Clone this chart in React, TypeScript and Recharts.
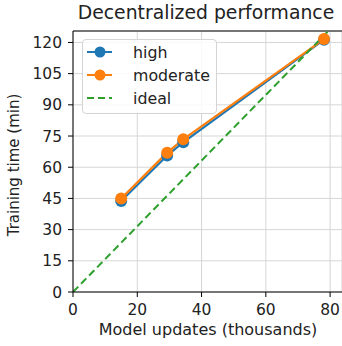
import React from 'react';
import { LineChart, Line, XAxis, YAxis, CartesianGrid, Legend, ReferenceLine } from 'recharts';

// model updates (thousands) vs training time (min)
const updates = [15, 29.3, 34.3, 78.1];
const highTime = [43.8, 65.6, 72.0, 121.3];
const moderateTime = [45.0, 67.0, 73.4, 121.6];
const idealUpdates = [0, 84];
const idealTime = [0, 132.7];

const xTicks = [0, 20, 40, 60, 80];
const yTicks = [0, 15, 30, 45, 60, 75, 90, 105, 120];

const FONT = '"DejaVu Sans", Verdana, sans-serif';

const toPoints = (xs: number[], ys: number[]) => xs.map((x, i) => ({ x, y: ys[i] }));

const highData = toPoints(updates, highTime);
const moderateData = toPoints(updates, moderateTime);
const idealData = toPoints(idealUpdates, idealTime);

const legendItems = [
  { name: 'high', color: '#1f77b4', dashed: false },
  { name: 'moderate', color: '#ff7f0e', dashed: false },
  { name: 'ideal', color: '#2ca02c', dashed: true },
];

const LegendBox = () => (
  <div
    style={{
      width: 135,
      height: 75,
      boxSizing: 'border-box',
      border: '1px solid #d4d4d4',
      borderRadius: 4,
      background: 'rgba(255,255,255,0.85)',
    }}
  >
    <svg width={133} height={73} style={{ display: 'block' }}>
      {legendItems.map((item, i) => {
        const cy = 12 + i * 23;
        return (
          <g key={item.name}>
            <line
              x1={4}
              x2={29}
              y1={cy}
              y2={cy}
              stroke={item.color}
              strokeWidth={2}
              strokeDasharray={item.dashed ? '7 4' : undefined}
            />
            {!item.dashed && <circle cx={17} cy={cy} r={5.5} fill={item.color} />}
            <text x={50} y={cy + 5.5} fontSize={15.8} fontFamily={FONT} fill="#222">
              {item.name}
            </text>
          </g>
        );
      })}
    </svg>
  </div>
);

export default function App() {
  const tick = { fill: '#222', fontSize: 15.5, fontFamily: FONT };
  return (
    <div style={{ position: 'relative', width: 342, height: 346 }}>
      <style>{'body { margin: 0; }'}</style>
      <LineChart
        width={342}
        height={346}
        margin={{ top: 31, right: 0, bottom: 0, left: 0 }}
        style={{ fontFamily: FONT }}
      >
        <CartesianGrid stroke="#d6d6d6" strokeWidth={1} />
        <XAxis
          type="number"
          dataKey="x"
          domain={[0, 83.7]}
          ticks={xTicks}
          allowDataOverflow
          height={54}
          tickSize={5}
          tickMargin={7}
          stroke="#000"
          tick={tick}
          label={() => (
            <text x={208} y={334.5} textAnchor="middle" fontSize={16} fontFamily={FONT} fill="#222">
              Model updates (thousands)
            </text>
          )}
        />
        <YAxis
          type="number"
          domain={[0, 125.5]}
          ticks={yTicks}
          allowDataOverflow
          width={73}
          tickSize={5}
          tickMargin={6}
          stroke="#000"
          tick={tick}
          label={() => (
            <text
              x={19}
              y={165}
              transform="rotate(-90 19 165)"
              textAnchor="middle"
              fontSize={15}
              fontFamily={FONT}
              fill="#222"
            >
              Training time (min)
            </text>
          )}
        />
        <ReferenceLine y={125.5} stroke="#000" strokeWidth={1} />
        <Line
          data={highData}
          dataKey="y"
          name="high"
          stroke="#1f77b4"
          strokeWidth={2.2}
          dot={{ r: 6, fill: '#1f77b4', stroke: '#1f77b4', strokeWidth: 0 }}
          isAnimationActive={false}
        />
        <Line
          data={moderateData}
          dataKey="y"
          name="moderate"
          stroke="#ff7f0e"
          strokeWidth={2.2}
          dot={{ r: 6, fill: '#ff7f0e', stroke: '#ff7f0e', strokeWidth: 0 }}
          isAnimationActive={false}
        />
        <Line
          data={idealData}
          dataKey="y"
          name="ideal"
          stroke="#2ca02c"
          strokeWidth={2}
          strokeDasharray="7.5 4"
          dot={false}
          isAnimationActive={false}
        />
        <Legend
          layout="horizontal"
          verticalAlign="middle"
          align="center"
          content={() => <LegendBox />}
          wrapperStyle={{ position: 'absolute', top: 39, left: 82, width: 'auto' }}
        />
      </LineChart>
      <svg
        width={342}
        height={30}
        style={{ position: 'absolute', top: 0, left: 0, pointerEvents: 'none' }}
      >
        <text x={206} y={19} textAnchor="middle" fontSize={18.8} fontFamily={FONT} fill="#222">
          Decentralized performance
        </text>
      </svg>
    </div>
  );
}
